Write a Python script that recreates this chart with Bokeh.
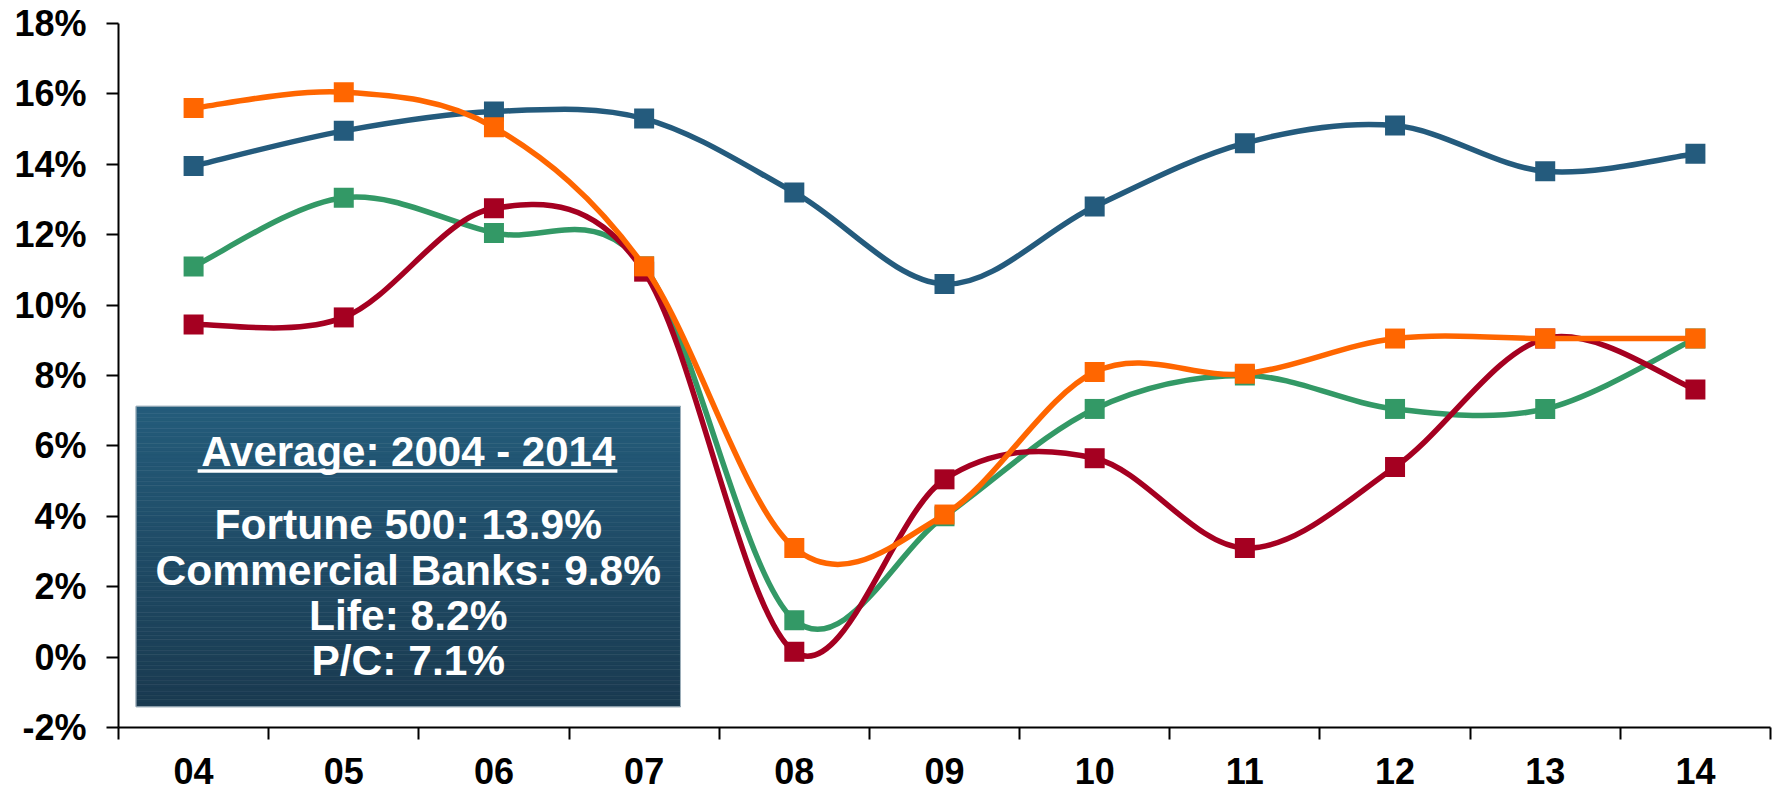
import numpy as np
from bokeh.plotting import figure
from bokeh.models import Range1d, FixedTicker
from bokeh.core.properties import value
from bokeh.embed import file_html
from bokeh.resources import INLINE

# ---------------- data ----------------
years = ["04", "05", "06", "07", "08", "09", "10", "11", "12", "13", "14"]
fortune500 = [13.95, 14.95, 15.5, 15.3, 13.2, 10.6, 12.8, 14.6, 15.1, 13.8, 14.3]
commercial_banks = [15.6, 16.05, 15.05, 11.1, 3.1, 4.05, 8.1, 8.05, 9.05, 9.05, 9.05]
life = [11.1, 13.05, 12.05, 11.1, 1.05, 4.0, 7.05, 8.0, 7.05, 7.05, 9.05]
pc = [9.45, 9.65, 12.75, 10.95, 0.15, 5.05, 5.65, 3.1, 5.4, 9.05, 7.6]

y_ticks = [-2, 0, 2, 4, 6, 8, 10, 12, 14, 16, 18]
y_tick_labels = ["-2%", "0%", "2%", "4%", "6%", "8%", "10%", "12%", "14%", "16%", "18%"]

avg_title = "Average: 2004 - 2014"
avg_lines = ["Fortune 500: 13.9%", "Commercial Banks: 9.8%", "Life: 8.2%", "P/C: 7.1%"]

# ---------------- styles ----------------
FONT = "Liberation Sans"
C_BLUE = "#245B7D"
C_ORANGE = "#FF6600"
C_GREEN = "#339966"
C_RED = "#A50021"

p = figure(width=1780, height=792, output_backend="svg", toolbar_location=None,
           x_range=Range1d(0, 11), y_range=Range1d(-2, 18),
           min_border_left=118, min_border_right=10, min_border_top=23, min_border_bottom=65)
p.outline_line_color = None
p.xgrid.visible = False
p.ygrid.visible = False
p.background_fill_color = "white"
p.border_fill_color = "white"

# y axis
ya = p.yaxis[0]
ya.ticker = FixedTicker(ticks=y_ticks, minor_ticks=[])
ya.major_label_overrides = {t: l for t, l in zip(y_ticks, y_tick_labels)}
ya.major_label_text_font = FONT
ya.major_label_text_font_style = "bold"
ya.major_label_text_font_size = "36px"
ya.major_label_text_color = "black"
ya.major_tick_out = 12
ya.major_tick_in = 0
ya.major_label_standoff = 20
ya.axis_line_width = 2
ya.major_tick_line_width = 2
ya.axis_line_color = "black"
ya.major_tick_line_color = "black"

# x axis: labels at category centres, tick marks at category boundaries
xc = [i + 0.5 for i in range(len(years))]
bounds = list(range(len(years) + 1))
xa = p.xaxis[0]
xa.ticker = FixedTicker(ticks=xc, minor_ticks=bounds)
xa.major_label_overrides = {x: y for x, y in zip(xc, years)}
xa.major_label_text_font = FONT
xa.major_label_text_font_style = "bold"
xa.major_label_text_font_size = "36px"
xa.major_label_text_color = "black"
xa.major_label_standoff = 18
xa.major_tick_out = 0
xa.major_tick_in = 0
xa.minor_tick_out = 12
xa.minor_tick_in = 0
xa.minor_tick_line_width = 2
xa.minor_tick_line_color = "black"
xa.axis_line_width = 2
xa.axis_line_color = "black"

# ---------------- average box (gradient) ----------------
box_l, box_r, box_t, box_b = 0.117, 3.742, 7.125, -1.41
n = 80
edges = np.linspace(box_t, box_b, n + 1)
c_top = np.array([36, 92, 123])
c_bot = np.array([26, 58, 80])
cols = []
for k in range(n):
    f = (k + 0.5) / n
    c = (c_top * (1 - f) + c_bot * f).round().astype(int)
    cols.append("#%02x%02x%02x" % tuple(c))
p.quad(left=[box_l] * n, right=[box_r] * n, top=edges[:-1], bottom=edges[1:],
       fill_color=cols, line_color=cols, line_width=0.6)
p.quad(left=[box_l], right=[box_r], top=[box_t], bottom=[box_b],
       fill_color=None, line_color="#9fb0bc", line_width=1)

box_cx = (box_l + box_r) / 2
p.text(x=[box_cx], y=[5.84], text=[avg_title], text_align="center",
       text_baseline="alphabetic", text_font=value(FONT), text_font_style="bold",
       text_font_size="42px", text_color="white")
p.segment(x0=[0.527], y0=[5.29], x1=[3.322], y1=[5.29], line_color="white", line_width=3.5)
p.text(x=[box_cx] * len(avg_lines), y=[3.77, 2.47, 1.19, -0.09], text=avg_lines,
       text_align="center", text_baseline="alphabetic", text_font=value(FONT),
       text_font_style="bold", text_font_size="42.5px", text_color="white")

# ---------------- smoothed lines ----------------
def smooth(ys):
    x = np.array(xc, dtype=float)
    y = np.array(ys, dtype=float)
    m = len(x)
    xp = np.concatenate([[x[0]], x, [x[-1]]])
    yp = np.concatenate([[y[0]], y, [y[-1]]])
    x0, y0 = x[:-1], y[:-1]
    x1, y1 = x[1:], y[1:]
    cx0 = x0 + (xp[2:m + 1] - xp[0:m - 1]) / 6.0
    cy0 = y0 + (yp[2:m + 1] - yp[0:m - 1]) / 6.0
    cx1 = x1 - (xp[3:m + 2] - xp[1:m]) / 6.0
    cy1 = y1 - (yp[3:m + 2] - yp[1:m]) / 6.0
    return dict(x0=x0, y0=y0, x1=x1, y1=y1, cx0=cx0, cy0=cy0, cx1=cx1, cy1=cy1)

for ys, col in [(fortune500, C_BLUE), (life, C_GREEN), (pc, C_RED), (commercial_banks, C_ORANGE)]:
    s = smooth(ys)
    p.bezier(x0=s["x0"], y0=s["y0"], x1=s["x1"], y1=s["y1"],
             cx0=s["cx0"], cy0=s["cy0"], cx1=s["cx1"], cy1=s["cy1"],
             line_color=col, line_width=5.5)
    p.scatter(x=xc, y=ys, marker="square", size=20, fill_color=col, line_color=col, line_width=0)

open("out.html", "w").write(file_html(p, INLINE))
